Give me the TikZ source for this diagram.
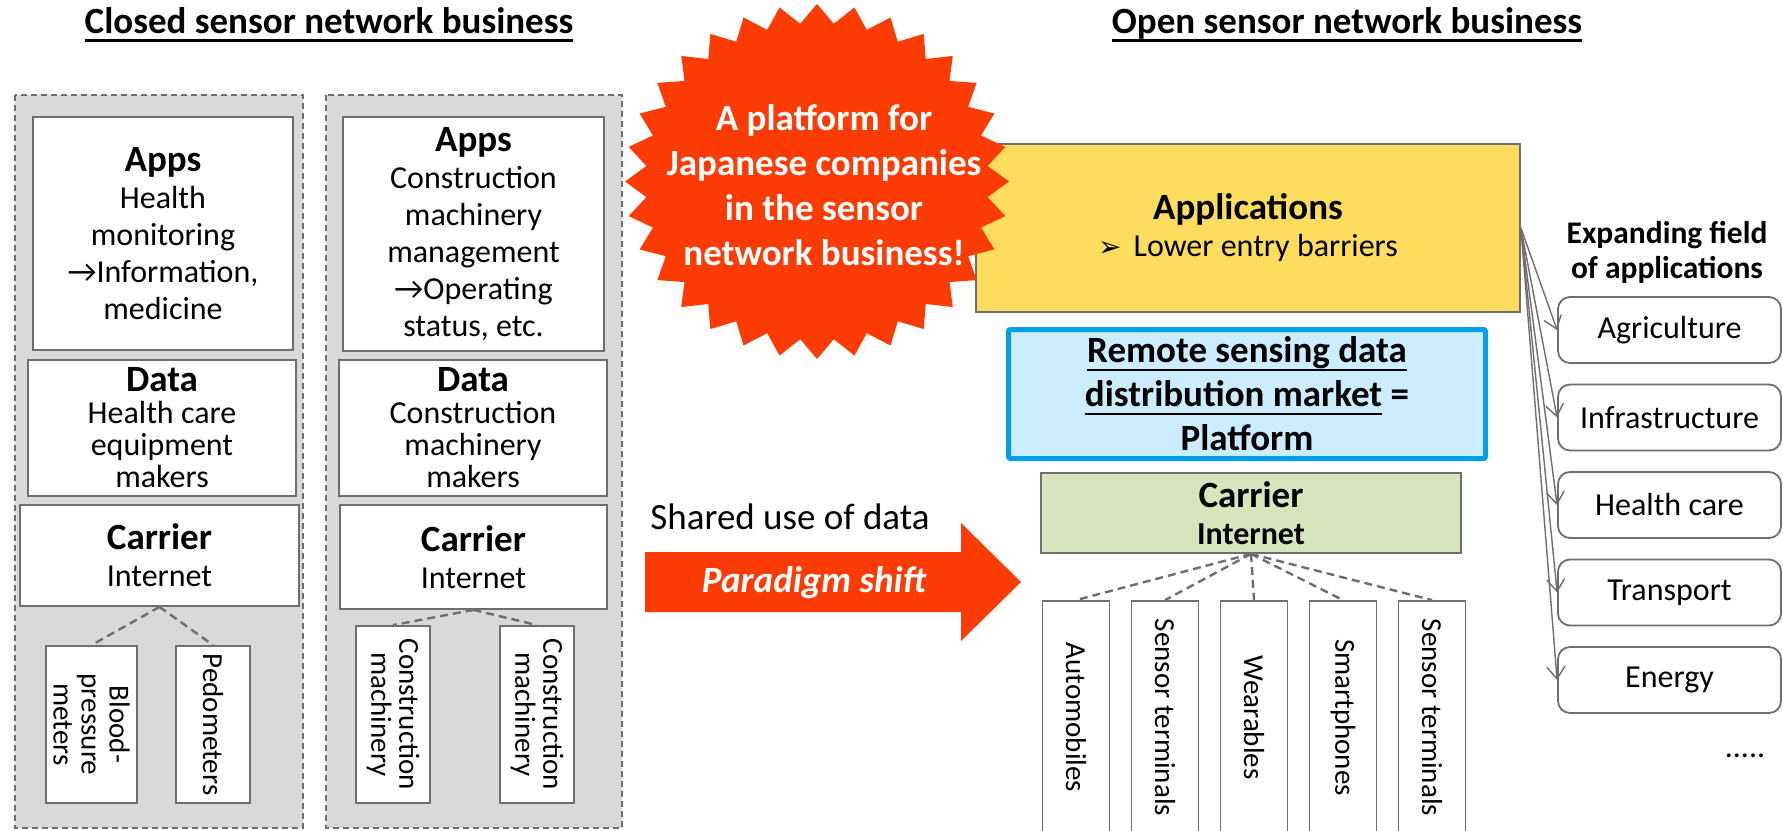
\documentclass[tikz,border=0pt]{standalone}
\usepackage{fontspec}
\setmainfont{Carlito}
\newfontfamily\symfont{DejaVu Sans}
\usetikzlibrary{arrows.meta, positioning}

\definecolor{burst}{RGB}{252,60,4}
\definecolor{appyellow}{RGB}{254,220,93}
\definecolor{mktblue}{RGB}{0,160,233}
\definecolor{mktfill}{RGB}{204,236,255}
\definecolor{carrgreen}{RGB}{216,228,188}
\definecolor{panelgray}{RGB}{217,217,217}
\definecolor{edgegray}{RGB}{110,110,110}

\newcommand\headfont{\fontsize{18.5}{22}\selectfont\bfseries}
\newcommand\bodyfont{\fontsize{16}{18.5}\selectfont}
\newcommand\datafont{\fontsize{16}{16}\selectfont}
\newcommand\devfont{\fontsize{14.5}{14}\selectfont}
% thick underline at a fixed distance below the baseline
\newcommand\uln[1]{\leavevmode\setbox0\hbox{#1}\dp0=0pt\vtop{\copy0\kern3pt\hrule height 1.3pt}}

\begin{document}
\begin{tikzpicture}[x=0.5pt, y=-0.5pt,
    panel/.style={draw=edgegray, dash pattern=on 3pt off 2pt, fill=panelgray, line width=0.8pt},
    box/.style={draw=edgegray, fill=white, line width=0.9pt, inner sep=0pt, align=center, font=\bodyfont},
    databox/.style={box, font=\datafont},
    device/.style={box, rotate=-90, font=\devfont},
    link/.style={draw=edgegray, dash pattern=on 4pt off 2.5pt, line width=1.2pt},
    field/.style={box, rounded corners=6pt},
    spread/.style={draw=edgegray, line width=0.7pt, -{Straight Barb[length=6pt,width=9pt]}},
    heading/.style={font=\headfont, anchor=base}]
\useasboundingbox (0,0) rectangle (1783,830);
\fill[white] (0,0) rectangle (1783,830);

% Titles
\node[heading] (closedtitle) at (329,33) {\uln{Closed sensor network business}};
\node[heading] (opentitle) at (1347,33) {\uln{Open sensor network business}};

% Closed business: two vertical stacks
\draw[panel] (15,95) rectangle (303,828);
\draw[panel] (326,95) rectangle (622,828);

\node[box, minimum width=130pt, minimum height=116.5pt] (appsL) at (163,233.5)
    {{\headfont Apps}\\Health\\monitoring\\→Information,\\medicine};
\node[databox, minimum width=134pt, minimum height=68pt] (dataL) at (162,428)
    {{\headfont Data}\\Health care\\equipment\\makers};
\node[box, minimum width=139.5pt, minimum height=50.5pt] (carrL) at (159.5,555.5)
    {{\headfont Carrier}\\Internet};

\node[box, minimum width=130.5pt, minimum height=117pt] (appsR) at (473.5,234)
    {{\headfont Apps}\\Construction\\machinery\\management\\→Operating\\status, etc.};
\node[databox, minimum width=134pt, minimum height=68pt] (dataR) at (473,428)
    {{\headfont Data}\\Construction\\machinery\\makers};
\node[box, minimum width=133.5pt, minimum height=52pt] (carrR) at (473.5,557)
    {{\headfont Carrier}\\Internet};

% devices (rotated, so west is the top side)
\node[device, minimum width=78.5pt, minimum height=45.5pt] (blood) at (91.5,724.5) {Blood-\\pressure\\meters};
\node[device, minimum width=78.5pt, minimum height=37pt] (pedo) at (213,724.5) {Pedometers};
\node[device, minimum width=88.5pt, minimum height=37pt] (cmA) at (393,714.5) {Construction\\machinery};
\node[device, minimum width=88.5pt, minimum height=37pt] (cmB) at (537,714.5) {Construction\\machinery};

\draw[link] (carrL.south) -- (blood.west);
\draw[link] (carrL.south) -- (pedo.west);
\draw[link] (carrR.south) -- (cmA.west);
\draw[link] (carrR.south) -- (cmB.west);

% Open business: layered platform
\node[box, fill=appyellow, minimum width=272pt, minimum height=84pt] (apps) at (1248,228)
    {{\headfont Applications}\\{\symfont\fontsize{14}{14}\selectfont ➢}\hspace{6pt}Lower entry barriers};

% burst with the slogan
\fill[burst] plot[domain=0:63, samples=64, variable=\k]
    ({817+192*(1-0.107*mod(\k,2))*cos(\k*5.625)}, {181.5-177.5*(1-0.107*mod(\k,2))*sin(\k*5.625)}) -- cycle;
\node[text=white, align=center, font=\fontsize{18.5}{22.5}\selectfont\bfseries] (slogan) at (824,185)
    {A platform for\\Japanese companies\\in the sensor\\network business!};

\node[box, draw=mktblue, fill=mktfill, line width=2.5pt, rounded corners=1pt,
      minimum width=238.5pt, minimum height=64.5pt, font=\headfont] (market) at (1247,394)
    {\uln{Remote sensing data}\\\uln{distribution market} =\\Platform};

\node[box, fill=carrgreen, minimum width=210pt, minimum height=40pt] (carrier) at (1251,513)
    {{\headfont Carrier}\\\textbf{Internet}};

\foreach \lbl [count=\i] in {Automobiles, Sensor terminals, Wearables, Smartphones, Sensor terminals} {
    \node[device, minimum width=116.5pt, minimum height=33.5pt] (dev\i) at ({1076+89*(\i-1)},717.5) {\lbl};
    \draw[link] (carrier.south) -- (dev\i.west);
}

% Paradigm shift arrow
\fill[burst] (645,552) -- (961,552) -- (961,523) -- (1021,582) -- (961,641) -- (961,612) -- (645,612) -- cycle;
\node[text=white, font=\fontsize{18.5}{20}\selectfont\bfseries\itshape] (shift) at (814,583) {Paradigm shift};
\node[font=\fontsize{18.5}{20}\selectfont] (shared) at (790,517) {Shared use of data};

% Fields of application
\node[align=center, font=\fontsize{15.75}{17.5}\selectfont\bfseries] (expand) at (1667,252)
    {Expanding field\\of applications};
\foreach \fld [count=\i] in {Agriculture, Infrastructure, Health care, Transport, Energy} {
    \node[field, minimum width=111.5pt, minimum height=33pt] (f\i) at ({1669.5},{330+87.5*(\i-1)}) {\fld};
    \draw[spread] (apps.east) -- (f\i.west);
}
\node[font=\bodyfont, anchor=base] (more) at (1745,757) {.....};
\end{tikzpicture}
\end{document}
